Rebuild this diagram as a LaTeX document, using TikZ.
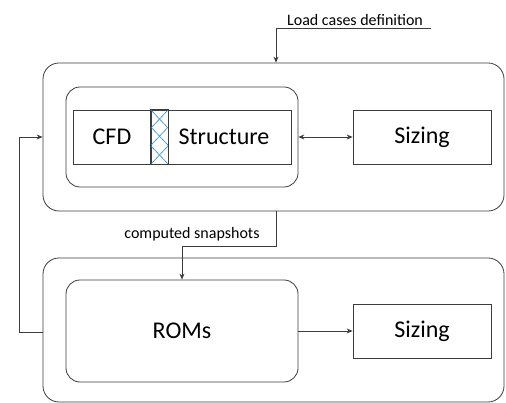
\documentclass[tikz,border=0pt]{standalone}
\usepackage{fontspec}
\setmainfont{Carlito}
\usetikzlibrary{arrows.meta}

\definecolor{linegray}{RGB}{60,60,60}
\definecolor{hatchblue}{RGB}{40,140,215}

\begin{document}
\begin{tikzpicture}[x=1pt,y=-1pt,
        line width=0.8pt, draw=linegray,
        >={Stealth[length=6pt,width=5pt]},
        group/.style={draw=linegray, rounded corners=16pt, inner sep=0pt},
        block/.style={draw=linegray, inner sep=0pt, minimum width=138pt, minimum height=54pt, font=\fontsize{24}{27}\selectfont},
        label/.style={font=\fontsize{16}{18}\selectfont, inner sep=1pt}]
            \useasboundingbox (0,0) rectangle (506,403);

            % Outer groups
            \node[group, minimum width=461pt, minimum height=148pt] (coupled) at (273.5,137) {};
            \node[group, minimum width=461pt, minimum height=144pt] (reduced) at (273.5,330) {};

            % Coupled CFD / structure solver
            \node[group, rounded corners=14pt, minimum width=232pt, minimum height=100pt] (fsi) at (182,137) {};
            \node[draw=linegray, inner sep=0pt, minimum width=218pt, minimum height=54pt] (solver) at (182,137) {};
            \node[draw=linegray, inner sep=0pt, minimum width=17pt, minimum height=54pt] (iface) at (159.5,137) {};
            \node[font=\fontsize{24}{27}\selectfont] (cfd) at (112,137) {CFD};
            \node[font=\fontsize{24}{27}\selectfont] (struct) at (224,137) {Structure};
            \node[block] (sizingA) at (422,137) {Sizing};

            % Cross hatch on the interface strip
            \draw[hatchblue, line width=0.6pt] (iface.north west) -- ++(17,18) -- ++(-17,18) -- (iface.south east);
            \draw[hatchblue, line width=0.6pt] (iface.north east) -- ++(-17,18) -- ++(17,18) -- (iface.south west);
            \draw[linegray] (iface.north west) rectangle (iface.south east);

            % Reduced order models
            \node[group, rounded corners=14pt, minimum width=232pt, minimum height=102pt, font=\fontsize{24}{27}\selectfont] (roms) at (182,331) {ROMs};
            \node[block] (sizingB) at (422,331) {Sizing};

            % Connections
            \draw[<->] (fsi.east) -- (sizingA.west);
            \draw[->] (roms.east |- sizingB.west) -- (sizingB.west);

            % Load cases input
            \coordinate (lcEnd) at (431,28);
            \coordinate (lcBend) at (276,28);
            \node[label, anchor=south] (lcText) at (355,27) {Load cases definition};
            \draw[->] (lcEnd) -- (lcBend) -- (lcBend |- coupled.north);

            % Snapshots handed over to the ROMs
            \coordinate (snapA) at (276,246);
            \coordinate (snapB) at (182,246);
            \node[label] (snapText) at (192,234) {computed snapshots};
            \draw[->] (coupled.south -| snapA) -- (snapA) -- (snapB) -- (roms.north);

            % Feedback loop
            \coordinate (fbLow) at (19,332);
            \coordinate (fbHigh) at (19,137);
            \draw[->] (reduced.west |- fbLow) -- (fbLow) -- (fbHigh) -- (coupled.west);
        \end{tikzpicture}
\end{document}
